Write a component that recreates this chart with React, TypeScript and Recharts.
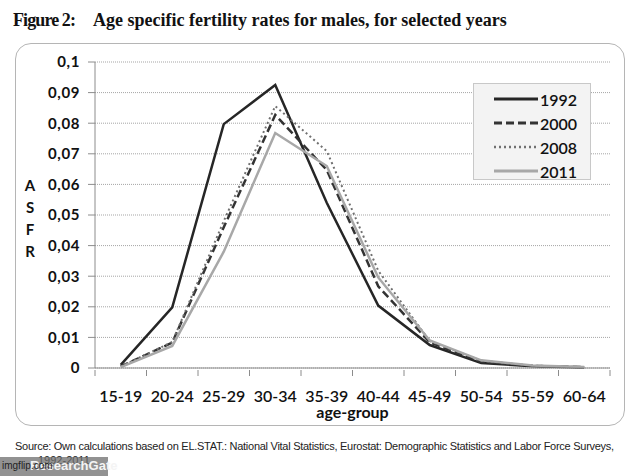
import React from 'react';
import { LineChart, Line, XAxis, YAxis, CartesianGrid, Legend, Label } from 'recharts';

const ageGroups = ['15-19', '20-24', '25-29', '30-34', '35-39', '40-44', '45-49', '50-54', '55-59', '60-64'];
const asfr1992 = [0.001, 0.0198, 0.0797, 0.0925, 0.054, 0.0204, 0.0075, 0.0016, 0.0006, 0.0002];
const asfr2000 = [0.0005, 0.0083, 0.046, 0.0827, 0.0647, 0.0267, 0.0084, 0.002, 0.0007, 0.0003];
const asfr2008 = [0.0005, 0.0085, 0.048, 0.0856, 0.0709, 0.0318, 0.0088, 0.0024, 0.0008, 0.0003];
const asfr2011 = [0.0003, 0.0072, 0.038, 0.0768, 0.066, 0.0296, 0.009, 0.0025, 0.0008, 0.0003];
const yTicks = [0, 0.01, 0.02, 0.03, 0.04, 0.05, 0.06, 0.07, 0.08, 0.09, 0.1];

const series = [
  { key: 'y1992', name: '1992', stroke: '#262626', width: 2.5, dash: undefined },
  { key: 'y2000', name: '2000', stroke: '#333333', width: 2.5, dash: '8 4' },
  { key: 'y2008', name: '2008', stroke: '#707070', width: 2, dash: '2 3' },
  { key: 'y2011', name: '2011', stroke: '#a8a8a8', width: 2.5, dash: undefined },
];

const data = ageGroups.map((age, i) => ({
  age,
  y1992: asfr1992[i],
  y2000: asfr2000[i],
  y2008: asfr2008[i],
  y2011: asfr2011[i],
}));

const fmt = (v: number) => String(v).replace('.', ',');

// plot width = 610 - 15 - 18 - 62
const BAND = 515 / ageGroups.length;

// Excel-style ticks: marks at the category boundaries, label in the middle
const AgeTick = (props: any) => {
  const { x, y, payload, index } = props;
  const last = index === ageGroups.length - 1;
  return (
    <g>
      <line x1={x - BAND / 2} y1={y} x2={x - BAND / 2} y2={y + 6} stroke="#8c8c8c" />
      {last && <line x1={x + BAND / 2} y1={y} x2={x + BAND / 2} y2={y + 6} stroke="#8c8c8c" />}
      <text x={x} y={y + 32} textAnchor="middle" fontFamily="Lato" fontSize={16} fontWeight={600} fill="#111">
        {payload.value}
      </text>
    </g>
  );
};

const LegendBox = () => (
  <div
    style={{
      width: 118,
      height: 97,
      background: '#f3f3f3',
      border: '1px solid #c8c8c8',
      boxSizing: 'border-box',
      paddingTop: 3,
    }}
  >
    {series.map((s) => (
      <div key={s.key} style={{ display: 'flex', alignItems: 'center', height: 24 }}>
        <svg width={66} height={10}>
          <line x1={20} y1={5} x2={64} y2={5} stroke={s.stroke} strokeWidth={s.width + 0.5} strokeDasharray={s.dash} />
        </svg>
        <span style={{ fontFamily: 'Lato', fontSize: 16, color: '#111', fontWeight: 600 }}>{s.name}</span>
      </div>
    ))}
  </div>
);

const AsfrLabel = () => (
  <text x={15} y={148} fontFamily="Lato" fontWeight={700} fontSize={15} fill="#111" textAnchor="middle">
    {['A', 'S', 'F', 'R'].map((c, i) => (
      <tspan key={c} x={15} dy={i === 0 ? 0 : 22}>
        {c}
      </tspan>
    ))}
  </text>
);

export default function App() {
  return (
    <div style={{ position: 'absolute', left: 0, top: 0, width: 634, height: 476, background: '#fff', overflow: 'hidden' }}>
      <div
        style={{
          position: 'absolute',
          left: 13,
          top: 10,
          fontFamily: 'Liberation Serif',
          fontWeight: 700,
          fontSize: 18,
          color: '#111',
          whiteSpace: 'nowrap',
        }}
      >
        <span style={{ letterSpacing: -0.9 }}>Figure 2:</span>
        <span style={{ position: 'absolute', left: 80 }}>Age specific fertility rates for males, for selected years</span>
      </div>

      <div
        style={{
          position: 'absolute',
          left: 15,
          top: 43,
          width: 610,
          height: 383,
          border: '1px solid #b5b5b5',
          borderRadius: 16,
          boxSizing: 'border-box',
        }}
      />

      <div style={{ position: 'absolute', left: 15, top: 43 }}>
        <LineChart width={610} height={383} data={data} margin={{ top: 19, right: 15, left: 18, bottom: 8 }}>
          <CartesianGrid vertical={false} stroke="#a5a5a5" strokeDasharray="1 1" />
          <XAxis
            dataKey="age"
            scale="band"
            height={50}
            stroke="#8c8c8c"
            tickLine={false}
            tickSize={0}
            interval={0}
            tick={<AgeTick />}
          >
            <Label
              value="age-group"
              position="insideBottom"
              offset={0}
              style={{ fontFamily: 'Lato', fontSize: 16, fontWeight: 700, fill: '#111' }}
            />
          </XAxis>
          <YAxis
            domain={[0, 0.1]}
            ticks={yTicks}
            interval={0}
            tickFormatter={fmt}
            width={62}
            tickSize={7}
            tickMargin={8}
            stroke="#8c8c8c"
            tick={{ fontFamily: 'Lato', fontSize: 15, fontWeight: 700, fill: '#111', letterSpacing: 0.6 }}
            label={<AsfrLabel />}
          />
          <Legend
            verticalAlign="middle"
            align="center"
            content={<LegendBox />}
            wrapperStyle={{ position: 'absolute', left: 458, top: 40, width: 118 }}
          />
          {series.map((s) => (
            <Line
              key={s.key}
              dataKey={s.key}
              name={s.name}
              type="linear"
              stroke={s.stroke}
              strokeWidth={s.width}
              strokeDasharray={s.dash}
              dot={false}
              activeDot={false}
              isAnimationActive={false}
            />
          ))}
        </LineChart>
      </div>

      <div
        style={{
          position: 'absolute',
          left: 15,
          top: 440,
          fontFamily: 'Liberation Sans',
          fontSize: 11,
          color: '#222',
          whiteSpace: 'nowrap',
          letterSpacing: -0.27,
        }}
      >
        Source: Own calculations based on EL.STAT.: National Vital Statistics, Eurostat: Demographic Statistics and Labor Force Surveys,
      </div>
      <div
        style={{
          position: 'absolute',
          left: 38,
          top: 454,
          fontFamily: 'Liberation Sans',
          fontSize: 11,
          color: '#222',
        }}
      >
        1992-2011
      </div>
      <div
        style={{
          position: 'absolute',
          left: 0,
          top: 457,
          width: 108,
          height: 19,
          background: 'rgba(110,110,110,0.75)',
        }}
      />
      <div
        style={{
          position: 'absolute',
          left: 30,
          top: 458,
          fontFamily: 'Liberation Sans',
          fontWeight: 700,
          fontSize: 13,
          color: '#f4f4f4',
        }}
      >
        ResearchGate
      </div>
      <div
        style={{
          position: 'absolute',
          left: 2,
          top: 460,
          fontFamily: 'Liberation Sans',
          fontSize: 10,
          color: '#222',
        }}
      >
        imgflip.com
      </div>
    </div>
  );
}
